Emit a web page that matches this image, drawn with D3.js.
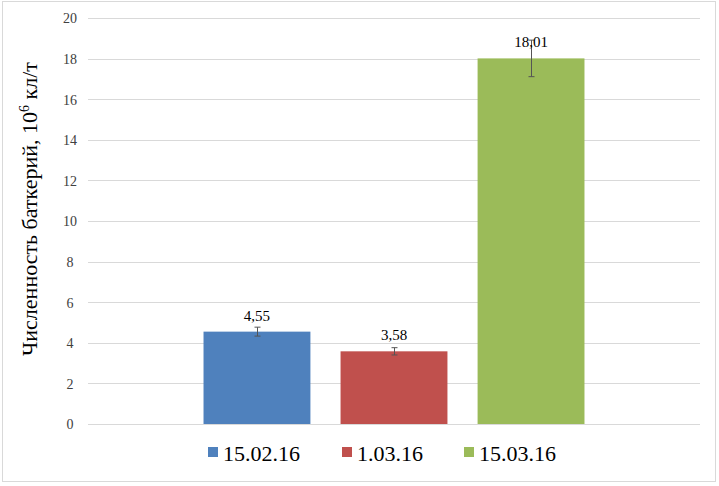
<!DOCTYPE html>
<html><head><meta charset="utf-8">
<script src="https://cdn.jsdelivr.net/npm/d3@7"></script>
<style>body{margin:0;background:#fff}svg{display:block}svg text{font-family:"Liberation Serif","Times New Roman","DejaVu Serif",serif}</style>
</head><body>
<script>
const series = ["15.02.16", "1.03.16", "15.03.16"];
const values = [4.55, 3.58, 18.01];
const errors = [0.22, 0.18, 0.9];
const labels = ["4,55", "3,58", "18,01"];
const colors = ["#4f81bd", "#c0504d", "#9bbb59"];
const yTicks = [0, 2, 4, 6, 8, 10, 12, 14, 16, 18, 20];
const yTitle = "Численность баткерий, 10";

(function () {
const W = 719, H = 486;
const svg = d3.select("body").append("svg").attr("width", W).attr("height", H);

svg.append("rect").attr("x", 2.5).attr("y", 1.5).attr("width", 713).attr("height", 480)
  .attr("fill", "#fff").attr("stroke", "#d9d9d9");

const pLeft = 88, pRight = 700, pTop = 18, pBottom = 424;
const y = d3.scaleLinear().domain([0, 20]).range([pBottom, pTop]);
const x = d3.scaleBand().domain(series).range([pLeft, pRight]).paddingInner(0.22).paddingOuter(0.843);

// grid
svg.append("g").selectAll("line").data(yTicks).join("line")
  .attr("x1", pLeft).attr("x2", pRight)
  .attr("y1", d => Math.round(y(d)) + 0.5).attr("y2", d => Math.round(y(d)) + 0.5)
  .attr("stroke", "#d9d9d9");

// y axis labels
const yAxis = d3.axisLeft(y).tickValues(yTicks).tickSize(0).tickPadding(0).tickFormat(d3.format("d"));
const ga = svg.append("g").attr("transform", `translate(${pLeft - 18},0)`).call(yAxis);
ga.select(".domain").remove();
ga.attr("font-family", null).attr("font-size", null);
ga.selectAll("text").attr("font-size", 14).attr("fill", "#404040").attr("dy", "0.35em").attr("text-anchor", "middle");

// axis title
const t = svg.append("text").attr("transform", `translate(37,${(pTop + pBottom) / 2 - 12}) rotate(-90)`)
  .attr("text-anchor", "middle").attr("font-size", 22).attr("fill", "#000");
t.append("tspan").text(yTitle);
t.append("tspan").text("6").attr("font-size", 14).attr("dy", -8);
t.append("tspan").text(" кл/т").attr("dy", 8);

// bars
svg.append("g").selectAll("rect").data(series).join("rect")
  .attr("x", d => x(d)).attr("width", x.bandwidth())
  .attr("y", (d, i) => y(values[i])).attr("height", (d, i) => y(0) - y(values[i]))
  .attr("fill", (d, i) => colors[i]);

// error bars
const eg = svg.append("g").attr("stroke", "#555").attr("stroke-width", 1);
series.forEach((s, i) => {
  const cx = Math.round(x(s) + x.bandwidth() / 2) + 0.5;
  const y1 = y(values[i] + errors[i]), y2 = y(values[i] - errors[i]);
  eg.append("line").attr("x1", cx).attr("x2", cx).attr("y1", y1).attr("y2", y2);
  eg.append("line").attr("x1", cx - 3).attr("x2", cx + 3).attr("y1", y1).attr("y2", y1);
  eg.append("line").attr("x1", cx - 3).attr("x2", cx + 3).attr("y1", y2).attr("y2", y2);
});

// data labels
svg.append("g").selectAll("text").data(series).join("text")
  .attr("x", d => x(d) + x.bandwidth() / 2)
  .attr("y", (d, i) => y(values[i]) - 11)
  .attr("text-anchor", "middle").attr("font-size", 15).attr("fill", "#000")
  .text((d, i) => labels[i]);

// legend
const legX = [208, 342, 464];
const lg = svg.append("g");
series.forEach((s, i) => {
  lg.append("rect").attr("x", legX[i]).attr("y", 447).attr("width", 10).attr("height", 10).attr("fill", colors[i]);
  lg.append("text").attr("x", legX[i] + 15).attr("y", 461).attr("font-size", 22)
    .attr("fill", "#000").text(s);
});
})();
</script>
</body></html>
